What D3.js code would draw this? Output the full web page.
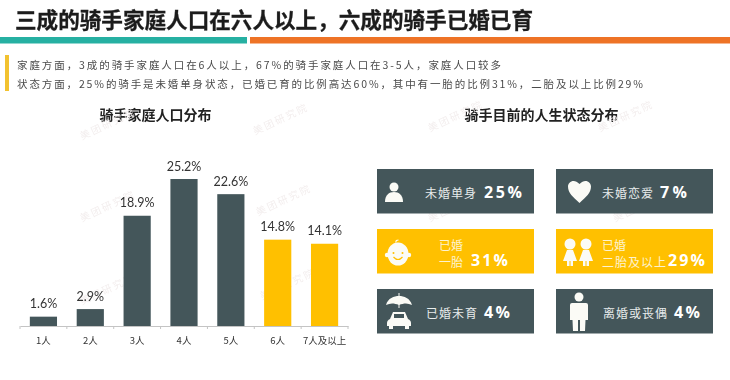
<!DOCTYPE html>
<html>
<head>
<meta charset="utf-8">
<script src="https://d3js.org/d3.v7.min.js"></script>
<style>
  html, body { margin: 0; padding: 0; background: #fff; }
  svg { display: block; filter: blur(0.5px); font-family: "Noto Sans CJK SC", sans-serif; }
</style>
</head>
<body>
<svg id="chart" width="730" height="380"></svg>
<script>
// Chart data
const titleText = '三成的骑手家庭人口在六人以上，六成的骑手已婚已育'
const noteLines = [
  '家庭方面，3成的骑手家庭人口在6人以上，67%的骑手家庭人口在3-5人，家庭人口较多',
  '状态方面，25%的骑手是未婚单身状态，已婚已育的比例高达60%，其中有一胎的比例31%，二胎及以上比例29%'
]
const leftTitle = '骑手家庭人口分布'
const rightTitle = '骑手目前的人生状态分布'
const householdSizes = ['1人', '2人', '3人', '4人', '5人', '6人', '7人及以上']
const householdShares = [1.6, 2.9, 18.9, 25.2, 22.6, 14.8, 14.1]
const highlightedSizes = ['6人', '7人及以上']
const statusLabels = [['未婚单身'], ['未婚恋爱'], ['已婚', '一胎'], ['已婚', '二胎及以上'], ['已婚未育'], ['离婚或丧偶']]
const statusShares = ['25%', '7%', '31%', '29%', '4%', '4%']
const statusIcons = ['person', 'heart', 'baby', 'kids', 'umbrella', 'man']
const statusHighlighted = [false, false, true, true, false, false]
const watermarkText = '美团研究院'

// Colours
const darkColor = '#44565a'
const yellowColor = '#ffc000'
const tealColor = '#26b0a2'
const orangeColor = '#ee7326'

const svg = d3.select('#chart')

// Header
svg.append('text')
  .attr('x', 15).attr('y', 28)
  .attr('textLength', 518).attr('lengthAdjust', 'spacing')
  .attr('font-size', 21.6).attr('font-weight', 700).attr('fill', '#1c1c1c')
  .attr('stroke', '#1c1c1c').attr('stroke-width', 0.3)
  .text(titleText)

svg.append('rect').attr('x', 0).attr('y', 37).attr('width', 247).attr('height', 6.5).attr('fill', tealColor)
svg.append('rect').attr('x', 250).attr('y', 37).attr('width', 480).attr('height', 6.5).attr('fill', orangeColor)
svg.append('rect').attr('x', 5).attr('y', 55).attr('width', 4).attr('height', 36).attr('fill', '#f2c230')

svg.selectAll('.note')
  .data(noteLines)
  .enter().append('text')
    .attr('class', 'note')
    .attr('x', 17)
    .attr('y', (d, i) => 69 + i * 19)
    .attr('textLength', (d, i) => i === 0 ? 484 : 626)
    .attr('lengthAdjust', 'spacing')
    .attr('font-size', 10.5)
    .attr('fill', '#4a4a4a')
    .text((d) => d)

svg.append('text').attr('x', 155.5).attr('y', 120).attr('text-anchor', 'middle')
  .attr('font-size', 14).attr('font-weight', 700).attr('fill', '#222').text(leftTitle)
svg.append('text').attr('x', 541.5).attr('y', 120).attr('text-anchor', 'middle')
  .attr('font-size', 14).attr('font-weight', 700).attr('fill', '#222').text(rightTitle)

// Faint watermarks behind the chart
const watermarks = [[82, 140], [255, 135], [82, 222], [258, 216], [82, 305], [262, 300], [430, 132], [600, 132], [430, 222], [615, 222]]
svg.selectAll('.watermark')
  .data(watermarks)
  .enter().append('text')
    .attr('class', 'watermark')
    .attr('transform', (d) => `translate(${d[0]},${d[1]}) rotate(-25)`)
    .attr('font-size', 10)
    .attr('letter-spacing', 2)
    .attr('fill', '#f3eeee')
    .text(watermarkText)

// Bar chart
const x = d3.scaleBand().domain(householdSizes).range([20, 348]).paddingInner(0.42).paddingOuter(0.21)
const y = d3.scaleLinear().domain([0, 25.2]).range([326, 179])

const barColor = (name) => highlightedSizes.includes(name) ? yellowColor : darkColor

svg.selectAll('.bar')
  .data(householdSizes)
  .enter().append('rect')
    .attr('class', 'bar')
    .attr('x', (d) => x(d))
    .attr('y', (d, i) => y(householdShares[i]))
    .attr('width', x.bandwidth())
    .attr('height', (d, i) => y(0) - y(householdShares[i]))
    .attr('fill', barColor)

svg.selectAll('.bar-label')
  .data(householdSizes)
  .enter().append('text')
    .attr('class', 'bar-label')
    .attr('x', (d) => x(d) + x.bandwidth() / 2)
    .attr('y', (d, i) => y(householdShares[i]) - 8.5)
    .attr('text-anchor', 'middle')
    .attr('font-family', 'Lato, sans-serif')
    .attr('font-size', 12.5)
    .attr('fill', '#333')
    .text((d, i) => householdShares[i].toFixed(1) + '%')

const xAxis = svg.append('g')
  .attr('transform', 'translate(0,326)')
  .call(d3.axisBottom(x).tickSize(0).tickPadding(11))
xAxis.select('.domain').attr('stroke', '#c4c4c4')
xAxis.selectAll('text')
  .attr('font-family', '"Noto Sans CJK SC", sans-serif')
  .attr('font-size', 9.5)
  .attr('fill', '#333')

// Tick marks sit between the categories
xAxis.selectAll('.edge-tick')
  .data(d3.range(householdSizes.length + 1))
  .enter().append('line')
    .attr('class', 'edge-tick')
    .attr('x1', (d) => 20 + d * x.step())
    .attr('x2', (d) => 20 + d * x.step())
    .attr('y1', 0).attr('y2', 3)
    .attr('stroke', '#c4c4c4')

// Status cards
const cardWidth = 157
const cardHeight = 44.5
const colX = [377, 556]
const rowY = [169, 229, 289]

// Label and number placement differs per card, offsets are from the card corner
const labelX = [48, 46, 62, 46, 49, 47]
const shareX = [107, 104, 94, 112, 107, 118]
const shareEnd = [145, 131, 131, 149, 133, 144]

const iconDrawers = {
  person (g) {
    g.append('circle').attr('cx', 17).attr('cy', 18).attr('r', 4.5)
    g.append('path').attr('d', 'M8 33 C8 26 12 23 17 23 C22 23 26 26 26 33 Z')
  },
  heart (g) {
    g.append('path').attr('d', 'M23.5 34 C17 28 12 24 12 17.5 C12 13 18 9 23.5 15 C29 9 35 13 35 17.5 C35 24 30 28 23.5 34 Z')
  },
  baby (g) {
    g.append('ellipse').attr('cx', 21).attr('cy', 25).attr('rx', 10.5).attr('ry', 11.5)
    g.append('circle').attr('cx', 10).attr('cy', 26).attr('r', 2.2)
    g.append('circle').attr('cx', 32).attr('cy', 26).attr('r', 2.2)
    g.append('path').attr('d', 'M19 13.5 C18.5 11.5 20 11 21.5 11').attr('fill', 'none').attr('stroke', '#fbfbf6').attr('stroke-width', 1.2)
    g.append('circle').attr('cx', 16.5).attr('cy', 24).attr('r', 1).attr('fill', yellowColor)
    g.append('circle').attr('cx', 25.5).attr('cy', 24).attr('r', 1).attr('fill', yellowColor)
    g.append('path').attr('d', 'M16.5 28 Q21 33 25.5 28').attr('fill', 'none').attr('stroke', yellowColor).attr('stroke-width', 1.2)
  },
  kids (g) {
    [14, 30].forEach((cx) => {
      g.append('circle').attr('cx', cx).attr('cy', 15).attr('r', 5.5)
      g.append('path').attr('d', `M${cx - 3} 21 L${cx + 3} 21 L${cx + 7} 32 L${cx + 3} 32 L${cx + 3} 37 L${cx + 0.5} 37 L${cx + 0.5} 32 L${cx - 0.5} 32 L${cx - 0.5} 37 L${cx - 3} 37 L${cx - 3} 32 L${cx - 7} 32 Z`)
    })
  },
  umbrella (g) {
    g.append('path').attr('d', 'M9 16 C11 9 17 7 22 7 C27 7 33 9 35 16 C31 14 27 14 22 16 C17 14 13 14 9 16 Z')
    g.append('line').attr('x1', 22).attr('x2', 22).attr('y1', 4).attr('y2', 19).attr('stroke', '#fbfbf6')
    g.append('path').attr('d', 'M16 23 L28 23 L31 30 C33 31 34 32 34 34 L34 37 L10 37 L10 34 C10 32 11 31 13 30 Z')
    g.append('rect').attr('x', 12).attr('y', 37).attr('width', 4).attr('height', 3)
    g.append('rect').attr('x', 28).attr('y', 37).attr('width', 4).attr('height', 3)
    g.append('rect').attr('x', 17).attr('y', 25).attr('width', 10).attr('height', 4).attr('fill', darkColor)
  },
  man (g) {
    g.append('circle').attr('cx', 23).attr('cy', 8).attr('r', 4.5)
    g.append('path').attr('d', 'M16 14 L30 14 Q32 14 32 16 L32 31 L29.5 31 L29 42 L24 42 L24 31 L22 31 L22 42 L17 42 L16.5 31 L14 31 L14 16 Q14 14 16 14 Z')
  }
}

const cards = svg.selectAll('.card')
  .data(statusShares)
  .enter().append('g')
    .attr('class', 'card')
    .attr('transform', (d, i) => `translate(${colX[i % 2]},${rowY[Math.floor(i / 2)]})`)

cards.append('rect')
  .attr('width', cardWidth)
  .attr('height', cardHeight)
  .attr('fill', (d, i) => statusHighlighted[i] ? yellowColor : darkColor)

cards.each(function (d, i) {
  const card = d3.select(this)
  const lines = statusLabels[i]
  const icon = card.append('g').attr('fill', '#fbfbf6')
  iconDrawers[statusIcons[i]](icon)

  lines.forEach((line, k) => {
    const oneLine = lines.length === 1
    card.append('text')
      .attr('x', labelX[i])
      .attr('y', oneLine ? 28.5 : 20.5 + k * 17)
      .attr('font-size', 12)
      .attr('letter-spacing', line.length === 2 ? 0 : 1)
      .attr('fill', statusHighlighted[i] ? '#fdf3d0' : '#e8ecec')
      .text(line)
  })

  card.append('text')
    .attr('x', shareX[i])
    .attr('y', lines.length === 1 ? 29 : 37)
    .attr('textLength', shareEnd[i] - shareX[i])
    .attr('lengthAdjust', 'spacing')
    .attr('font-family', 'Open Sans, sans-serif')
    .attr('font-size', 16)
    .attr('font-weight', 700)
    .attr('fill', '#fff')
    .text(d)
})
</script>
</body>
</html>
